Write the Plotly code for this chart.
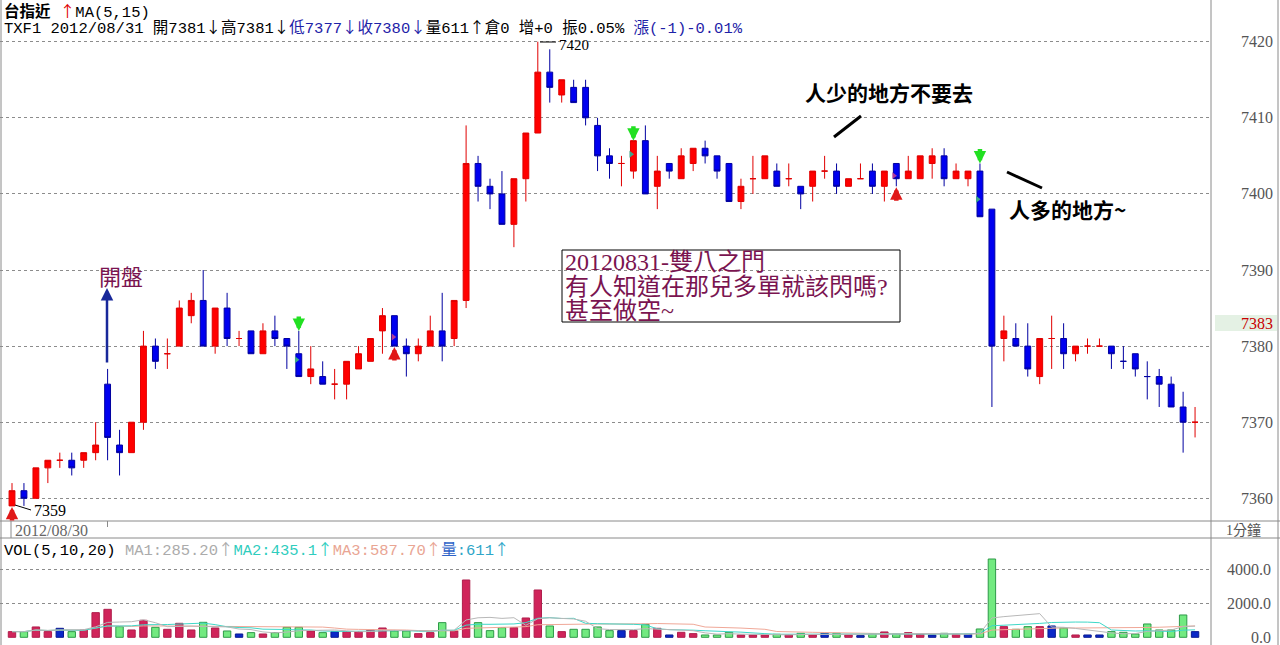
import plotly.graph_objects as go
import pandas as pd

W, H = 1280, 645

# ---------------- data (1-minute bars, TXF1) ----------------
opens = [7359, 7361, 7360, 7364, 7365, 7365, 7365, 7366, 7375, 7367,
         7366, 7370, 7380, 7379, 7380, 7384, 7386, 7380, 7385, 7381,
         7382, 7379, 7382, 7381, 7379, 7376, 7376, 7375, 7375, 7377,
         7378, 7382, 7384, 7380, 7379, 7380, 7382, 7381, 7386, 7404,
         7401, 7400, 7396, 7402, 7408, 7416, 7413, 7414, 7414, 7409,
         7405, 7404, 7403, 7407, 7401, 7404, 7402, 7404, 7406, 7405,
         7404, 7399, 7402, 7402, 7403, 7402, 7401, 7401, 7403, 7403,
         7401, 7402, 7403, 7401, 7404, 7402, 7402, 7404, 7405, 7402,
         7402, 7403, 7398, 7381, 7381, 7380, 7376, 7381, 7381, 7379,
         7380, 7380, 7380, 7378, 7379, 7376, 7376, 7375, 7372, 7370]
highs = [7362, 7362, 7364, 7365, 7366, 7366, 7366, 7370, 7377, 7369,
         7370, 7382, 7381, 7381, 7386, 7387, 7390, 7385, 7387, 7382,
         7382, 7383, 7384, 7381, 7382, 7380, 7378, 7377, 7378, 7380,
         7381, 7385, 7384, 7381, 7381, 7384, 7387, 7386, 7409, 7405,
         7402, 7403, 7402, 7408, 7420, 7419, 7415, 7415, 7415, 7410,
         7406, 7405, 7407, 7409, 7405, 7404, 7406, 7406, 7407, 7405,
         7404, 7402, 7405, 7405, 7404, 7404, 7401, 7403, 7405, 7404,
         7402, 7404, 7404, 7403, 7404, 7405, 7405, 7406, 7406, 7404,
         7403, 7404, 7398, 7384, 7383, 7383, 7381, 7384, 7383, 7380,
         7381, 7381, 7380, 7380, 7379, 7378, 7377, 7376, 7374, 7372]
lows = [7359, 7359, 7360, 7362, 7364, 7363, 7364, 7365, 7365, 7363,
        7366, 7369, 7377, 7377, 7380, 7383, 7380, 7379, 7380, 7380,
        7379, 7379, 7380, 7377, 7376, 7375, 7375, 7373, 7373, 7377,
        7378, 7379, 7380, 7376, 7378, 7380, 7378, 7380, 7385, 7399,
        7398, 7396, 7393, 7399, 7408, 7412, 7412, 7412, 7409, 7403,
        7402, 7401, 7402, 7400, 7398, 7402, 7402, 7403, 7404, 7402,
        7399, 7398, 7400, 7402, 7401, 7401, 7398, 7399, 7402, 7400,
        7401, 7402, 7400, 7399, 7401, 7402, 7402, 7402, 7401, 7402,
        7401, 7397, 7372, 7378, 7380, 7376, 7375, 7377, 7377, 7378,
        7379, 7380, 7377, 7377, 7376, 7373, 7372, 7372, 7366, 7368]
closes = [7361, 7360, 7364, 7365, 7365, 7364, 7366, 7367, 7368, 7366,
          7370, 7380, 7378, 7379, 7385, 7386, 7380, 7385, 7381, 7381,
          7379, 7382, 7381, 7380, 7376, 7377, 7375, 7375, 7378, 7379,
          7381, 7384, 7380, 7379, 7380, 7382, 7380, 7386, 7404, 7401,
          7400, 7396, 7402, 7408, 7416, 7414, 7415, 7412, 7410, 7405,
          7404, 7404, 7407, 7400, 7403, 7403, 7405, 7406, 7405, 7403,
          7399, 7401, 7402, 7405, 7401, 7402, 7400, 7403, 7403, 7401,
          7402, 7402, 7401, 7403, 7402, 7403, 7405, 7405, 7402, 7403,
          7403, 7397, 7380, 7382, 7380, 7377, 7381, 7381, 7379, 7380,
          7380, 7380, 7379, 7378, 7377, 7376, 7375, 7372, 7370, 7370]
volumes = [333, 333, 608, 333, 529, 333, 431, 1450, 1646, 627,
           431, 1000, 588, 470, 823, 431, 882, 549, 372, 196,
           274, 196, 274, 588, 588, 372, 274, 333, 333, 333,
           431, 549, 372, 372, 216, 274, 862, 372, 3371, 862,
           392, 568, 568, 1137, 2783, 666, 333, 470, 470, 608,
           392, 392, 392, 764, 529, 137, 294, 216, 137, 137,
           294, 137, 137, 137, 176, 137, 235, 137, 235, 235,
           137, 98, 196, 314, 196, 274, 196, 137, 235, 176,
           176, 490, 4606, 627, 470, 627, 627, 666, 549, 137,
           137, 137, 333, 294, 196, 784, 431, 431, 1313, 333]
price_ticks = [7360, 7370, 7380, 7390, 7400, 7410, 7420]
vol_ticks = [0, 2000, 4000]
vol_tick_labels = ["0.0", "2000.0", "4000.0"]
buy_marks = [0, 32, 74]      # red up arrows under the bar
sell_marks = [24, 52, 81]    # green down arrows above the bar

n = len(closes)
idx = list(range(n))

# ---------------- pixel helpers ----------------
def px(x):
    return x / W

def py(y):
    return 1 - y / H

PLOT_R = 1210
X_RANGE = [-1.004, 100.25]
Y_RANGE = [7357.15, 7425.48]
V_RANGE = [-453, 5841]

# ---------------- candle colour groups ----------------
red_i, blue_i = [], []
for i in idx:
    o, c = opens[i], closes[i]
    prev = closes[i - 1] if i > 0 else c
    if c > o or (c == o and c >= prev):
        red_i.append(i)
    else:
        blue_i.append(i)

fig = go.Figure()

def add_candles(ids, fill, line):
    fig.add_trace(go.Candlestick(
        x=ids,
        open=[opens[i] for i in ids], high=[highs[i] for i in ids],
        low=[lows[i] for i in ids], close=[closes[i] for i in ids],
        increasing=dict(fillcolor=fill, line=dict(color=line, width=1)),
        decreasing=dict(fillcolor=fill, line=dict(color=line, width=1)),
        whiskerwidth=0, showlegend=False, hoverinfo="skip",
        xaxis="x", yaxis="y"))

add_candles(red_i, "#FF0000", "#E00000")
add_candles(blue_i, "#0000F0", "#0000A0")

# small triangles inside signal bars
fig.add_trace(go.Scatter(
    x=[23.8, 51.8, 80.8], y=[7378.2, 7405.2, 7399.3], mode="markers",
    marker=dict(symbol="triangle-right", size=6, color="#3FA58A"),
    showlegend=False, hoverinfo="skip", xaxis="x", yaxis="y"))
fig.add_trace(go.Scatter(
    x=[31.9, 73.8], y=[7381.2, 7402.4], mode="markers",
    marker=dict(symbol="triangle-right", size=6, color="#B03A9A"),
    showlegend=False, hoverinfo="skip", xaxis="x", yaxis="y"))

# ---------------- volume ----------------
vcol, vline = [], []
for i in idx:
    prev = closes[i - 1] if i > 0 else opens[i]
    if closes[i] > prev:
        vcol.append("#D0245A"); vline.append("#B01E4C")
    elif closes[i] < prev:
        vcol.append("#72EA80"); vline.append("#2E9A48")
    else:
        vcol.append("#0A28C8"); vline.append("#0A1A90")

fig.add_trace(go.Bar(
    x=idx, y=volumes, width=0.62,
    marker=dict(color=vcol, line=dict(color=vline, width=1)),
    showlegend=False, hoverinfo="skip", xaxis="x2", yaxis="y2"))

vs = pd.Series(volumes, dtype=float)
for win, col in [(20, "#F0A898"), (10, "#3ED8C8"), (5, "#B8B8B8")]:
    fig.add_trace(go.Scatter(
        x=idx, y=vs.rolling(win, min_periods=1).mean().round(2).tolist(),
        mode="lines", line=dict(color=col, width=1),
        showlegend=False, hoverinfo="skip", xaxis="x2", yaxis="y2"))

# ---------------- layout / axes ----------------
grid = dict(showgrid=True, gridcolor="#8C8C8C", griddash="dot", gridwidth=1)
fig.update_layout(
    width=W, height=H, margin=dict(l=0, r=0, t=0, b=0),
    paper_bgcolor="white", plot_bgcolor="white", showlegend=False,
    xaxis=dict(domain=[0, px(PLOT_R)], range=X_RANGE, visible=False,
               rangeslider=dict(visible=False), anchor="y"),
    yaxis=dict(domain=[py(520), 1], range=Y_RANGE, tickvals=price_ticks,
               showticklabels=False, zeroline=False, showline=False,
               anchor="x", side="right", **grid),
    xaxis2=dict(domain=[0, px(PLOT_R)], range=X_RANGE, visible=False,
                anchor="y2", matches="x"),
    yaxis2=dict(domain=[0, py(538)], range=V_RANGE, tickvals=vol_ticks[1:],
                showticklabels=False, zeroline=False, showline=False,
                anchor="x2", side="right", **grid),
    bargap=0.3,
)

shapes = []
def hline(y, x0=0, x1=W, color="#8A8A8A", width=1):
    shapes.append(dict(type="line", xref="paper", yref="paper",
                       x0=px(x0), x1=px(x1), y0=py(y), y1=py(y),
                       line=dict(color=color, width=width)))
def vline_(x, y0=0, y1=H, color="#8A8A8A", width=1):
    shapes.append(dict(type="line", xref="paper", yref="paper",
                       x0=px(x), x1=px(x), y0=py(y0), y1=py(y1),
                       line=dict(color=color, width=width)))

hline(521)
hline(538)
vline_(1)
vline_(1211)
vline_(1278)
vline_(11, 521, 538)
vline_(107.5, 521, 527)
# white patch behind top note (gridline gap)
shapes.append(dict(type="rect", xref="paper", yref="paper", layer="between",
                   x0=px(802), x1=px(1033), y0=py(125), y1=py(72),
                   fillcolor="white", line=dict(width=0)))
# current price box on axis
shapes.append(dict(type="rect", xref="paper", yref="paper",
                   x0=px(1215), x1=px(1277), y0=py(331), y1=py(315),
                   fillcolor="#E4F1E4", line=dict(width=0)))
# text box
shapes.append(dict(type="rect", xref="paper", yref="paper",
                   x0=px(562), x1=px(900), y0=py(322), y1=py(250),
                   fillcolor="rgba(0,0,0,0)", line=dict(color="black", width=1)))
# hand-drawn strokes
shapes.append(dict(type="line", xref="paper", yref="paper",
                   x0=px(834), y0=py(137), x1=px(861), y1=py(116),
                   line=dict(color="black", width=3)))
shapes.append(dict(type="line", xref="paper", yref="paper",
                   x0=px(1007), y0=py(172), x1=px(1042), y1=py(188),
                   line=dict(color="black", width=3)))
# leaders for high / low labels
shapes.append(dict(type="line", xref="paper", yref="paper",
                   x0=px(540), y0=py(42), x1=px(556), y1=py(42),
                   line=dict(color="black", width=1)))
shapes.append(dict(type="line", xref="paper", yref="paper",
                   x0=px(15), y0=py(505), x1=px(31), y1=py(510),
                   line=dict(color="black", width=1)))
fig.update_layout(shapes=shapes)

SERIF = "Liberation Serif, Noto Sans CJK TC"
MONO = "Liberation Mono, Noto Sans CJK TC"
CJK = "Noto Sans CJK TC"
ann = []

def text(x, y, s, size, color="black", family=SERIF, xanchor="left", **kw):
    ann.append(dict(x=px(x), y=py(y), xref="paper", yref="paper", text=s,
                    showarrow=False, xanchor=xanchor, yanchor="middle",
                    font=dict(size=size, color=color, family=family), **kw))

def arw(ch, color=None):
    st = "font-family:Noto Sans CJK TC"
    if color:
        st += ";color:" + color
    return "<span style='" + st + "'>" + ch + "</span>"

DN, UP = arw("↓"), arw("↑")
BLUE = "#1E22A8"

# header
text(2, 10, "<b>台指近</b> " + arw("↑", "#E00000") + "MA(5,15)", 15.5, family=MONO)
text(2, 26, "TXF1 2012/08/31 開7381" + DN + "高7381" + DN
            + "<span style='color:" + BLUE + "'>低7377" + arw("↓", BLUE)
            + "收7380" + arw("↓", BLUE) + "</span>"
            + "量611" + UP + "倉0 增+0 振0.05% "
            + "<span style='color:" + BLUE + "'>漲(-1)-0.01%</span>", 15.5, family=MONO)
# volume header
text(2, 548, "VOL(5,10,20) "
             "<span style='color:#ABABAB'>MA1:285.20</span>" + arw("↑", "#ABABAB")
             + "<span style='color:#2FCDBE'>MA2:435.1</span>" + arw("↑", "#2FCDBE")
             + "<span style='color:#E9A593'>MA3:587.70</span>" + arw("↑", "#E9A593")
             + "<span style='color:#2E63C8'>量</span>"
             + "<span style='color:#2FA6C8'>:611</span>" + arw("↑", "#2FA6C8"),
     15.5, family=MONO)

# price axis labels
for t in price_ticks:
    ann.append(dict(x=px(1275), y=t, xref="paper", yref="y", text=str(t),
                    showarrow=False, xanchor="right", yanchor="middle",
                    font=dict(size=16, color="#555555", family=SERIF)))
text(1275, 323, "7383", 16, color="#C80000", xanchor="right")
# volume axis labels
for t, lab in zip(vol_ticks, vol_tick_labels):
    ann.append(dict(x=px(1273), y=t, xref="paper", yref="y2", text=lab,
                    showarrow=False, xanchor="right", yanchor="middle",
                    font=dict(size=16, color="#555555", family=SERIF)))
text(1243, 530, "1分鐘", 14, color="#555555", xanchor="center")
text(13, 530, "2012/08/30", 16, color="#666666")

# high / low labels
text(557, 45, "7420", 15)
text(32, 510, "7359", 16)

# notes
text(121, 275, "開盤", 22, color="#7A1450", family=CJK, xanchor="center")
ann.append(dict(x=px(107), y=py(288), xref="paper", yref="paper",
                ax=0, ay=76, text="",
                showarrow=True, arrowhead=2, arrowsize=1, arrowwidth=2.5,
                arrowcolor="#18289A", standoff=0))
MAROON = "#7A1450"
text(563, 262, "20120831-雙八之門", 24, color=MAROON)
text(563, 287, "有人知道在那兒多單就該閃嗎?", 24, color=MAROON)
text(563, 311, "甚至做空~", 24, color=MAROON)
text(803, 92, "<b>人少的地方不要去</b>", 21, family=CJK)
text(1007, 209, "<b>人多的地方~</b>", 21, family=CJK)

# signal arrows
for i in sell_marks:
    ann.append(dict(x=i, y=highs[i], xref="x", yref="y", ax=0, ay=-16,
                    text="", showarrow=True, arrowhead=2, arrowsize=0.55,
                    arrowwidth=4.5, arrowcolor="#22E022", standoff=0))
for i in buy_marks:
    ann.append(dict(x=i, y=lows[i], xref="x", yref="y", ax=0, ay=16,
                    text="", showarrow=True, arrowhead=2, arrowsize=0.55,
                    arrowwidth=4.5, arrowcolor="#E01818", standoff=1))

fig.update_layout(annotations=ann)
fig.write_html("out.html",
               config={"displayModeBar": False},
               post_script="document.body.style.margin='0px';"
                           "document.body.style.overflow='hidden';")
